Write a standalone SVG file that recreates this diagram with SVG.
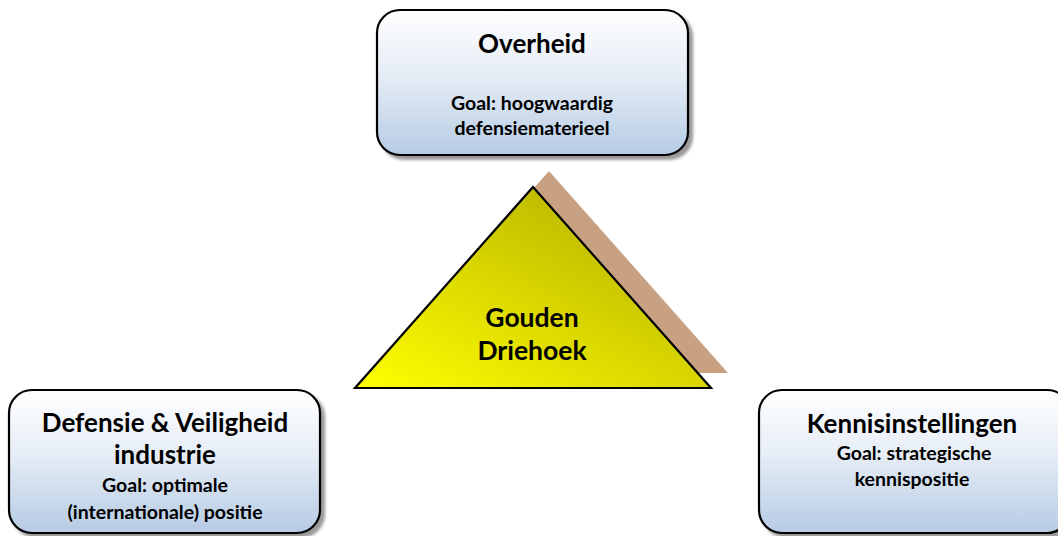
<svg xmlns="http://www.w3.org/2000/svg" width="1058" height="536" viewBox="0 0 1058 536">
  <defs>
    <linearGradient id="boxGrad" x1="0" y1="0" x2="0" y2="1">
      <stop offset="0" stop-color="#FFFFFF"/>
      <stop offset="0.45" stop-color="#E6EDF6"/>
      <stop offset="1" stop-color="#B6CBE4"/>
    </linearGradient>
    <linearGradient id="triGrad" x1="0" y1="1" x2="0.85" y2="0.1">
      <stop offset="0" stop-color="#FFFF00"/>
      <stop offset="0.5" stop-color="#DCD900"/>
      <stop offset="1" stop-color="#B5B200"/>
    </linearGradient>
    <filter id="boxShadow" x="-10%" y="-10%" width="125%" height="130%">
      <feDropShadow dx="4" dy="4" stdDeviation="1.8" flood-color="#000000" flood-opacity="0.4"/>
    </filter>
    <filter id="soft" x="-10%" y="-10%" width="120%" height="120%">
      <feGaussianBlur stdDeviation="0.6"/>
    </filter>
  </defs>
  <style>
    .box { fill: url(#boxGrad); stroke: #000000; stroke-width: 2.2; filter: url(#boxShadow); }
    .t { font-family: Lato, "Liberation Sans", sans-serif; font-weight: bold; fill: #000000; text-anchor: middle; }
    .title { font-size: 26px; }
    .sub { font-size: 19.5px; }
    .tri { font-size: 26.5px; }
  </style>

  <g id="overheid">
    <rect class="box" x="377" y="10" width="311" height="145" rx="23" ry="23"/>
    <text class="t title" x="532" y="53">Overheid</text>
    <text class="t sub" x="532" y="110">Goal: hoogwaardig</text>
    <text class="t sub" x="532" y="135">defensiematerieel</text>
  </g>

  <g id="gouden-driehoek">
    <polygon points="549,171 728,373 371,373" fill="#C8A082" filter="url(#soft)"/>
    <polygon points="533,187 711,388 355,388" fill="url(#triGrad)" stroke="#000000" stroke-width="2.2" stroke-linejoin="miter"/>
    <text class="t tri" x="532" y="327">Gouden</text>
    <text class="t tri" x="532" y="360">Driehoek</text>
  </g>

  <g id="defensie-industrie">
    <rect class="box" x="9" y="390" width="311" height="143" rx="23" ry="23"/>
    <text class="t title" x="165" y="432">Defensie &amp; Veiligheid</text>
    <text class="t title" x="165" y="464">industrie</text>
    <text class="t sub" x="165" y="492">Goal: optimale</text>
    <text class="t sub" x="165" y="519">(internationale) positie</text>
  </g>

  <g id="kennisinstellingen">
    <rect class="box" x="759" y="390" width="311" height="143" rx="23" ry="23"/>
    <text class="t title" x="912" y="433">Kennisinstellingen</text>
    <text class="t sub" x="914" y="460">Goal: strategische</text>
    <text class="t sub" x="912" y="486">kennispositie</text>
  </g>
</svg>
